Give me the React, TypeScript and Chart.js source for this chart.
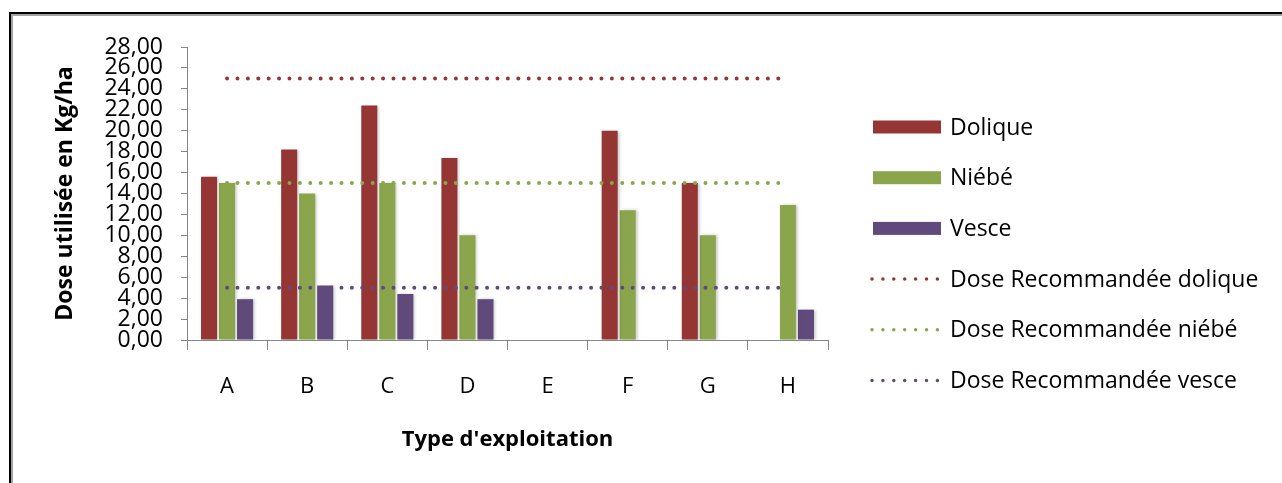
import React, { useEffect, useRef } from 'react';
import { Chart, registerables } from 'chart.js';

Chart.register(...registerables);

const categories = ['A', 'B', 'C', 'D', 'E', 'F', 'G', 'H'];
const dolique = [15.6, 18.2, 22.4, 17.4, null, 20.0, 15.0, null];
const niebe = [15.0, 14.0, 15.0, 10.0, null, 12.4, 10.0, 12.9];
const vesce = [3.9, 5.2, 4.4, 3.9, null, null, null, 2.9];
const recDolique = [25, 25, 25, 25, 25, 25, 25, 25];
const recNiebe = [15, 15, 15, 15, 15, 15, 15, 15];
const recVesce = [5, 5, 5, 5, 5, 5, 5, 5];
const seriesNames = [
  'Dolique',
  'Niébé',
  'Vesce',
  'Dose Recommandée dolique',
  'Dose Recommandée niébé',
  'Dose Recommandée vesce',
];
const yTickLabels = [
  '0,00', '2,00', '4,00', '6,00', '8,00', '10,00', '12,00', '14,00',
  '16,00', '18,00', '20,00', '22,00', '24,00', '26,00', '28,00',
];
const yTitle = 'Dose utilisée en Kg/ha';
const xTitle = "Type d'exploitation";

const RED = '#963634';
const GREEN = '#8AA54C';
const PURPLE = '#604A7B';
const AXIS = '#868686';
const FONT = '"Open Sans", "Noto Sans", sans-serif';

const shadowPlugin = {
  id: 'barShadow',
  beforeDatasetDraw(chart: any, args: any) {
    if (args.meta.type === 'bar') {
      const ctx = chart.ctx;
      ctx.save();
      ctx.shadowColor = 'rgba(0,0,0,0.22)';
      ctx.shadowBlur = 3;
      ctx.shadowOffsetX = 2;
      ctx.shadowOffsetY = 0;
    }
  },
  afterDatasetDraw(chart: any, args: any) {
    if (args.meta.type === 'bar') {
      chart.ctx.restore();
    }
  },
};

const legendPlugin = {
  id: 'sideLegend',
  afterDraw(chart: any) {
    const ctx = chart.ctx;
    ctx.save();
    chart.data.datasets.forEach((ds: any, i: number) => {
      const y = 127 + i * 50.7;
      if (ds.type === 'line') {
        ctx.strokeStyle = ds.borderColor;
        ctx.lineWidth = 3.5;
        ctx.lineCap = 'round';
        ctx.setLineDash([0, 10.9]);
        ctx.beginPath();
        ctx.moveTo(872, y);
        ctx.lineTo(938, y);
        ctx.stroke();
        ctx.setLineDash([]);
      } else {
        ctx.fillStyle = ds.backgroundColor;
        ctx.fillRect(873, y - 6.5, 68, 13);
      }
      ctx.fillStyle = '#000';
      ctx.font = `23px ${FONT}`;
      ctx.textBaseline = 'middle';
      ctx.textAlign = 'left';
      ctx.fillText(ds.label, 950, y + 1);
    });
    ctx.restore();
  },
};

export default function App() {
  const ref = useRef<HTMLCanvasElement | null>(null);

  useEffect(() => {
    if (!ref.current) return;
    const dotted = (label: string, data: number[], color: string) => ({
      type: 'line' as const,
      label,
      data,
      borderColor: color,
      backgroundColor: color,
      borderWidth: 4,
      borderCapStyle: 'round' as const,
      borderDash: [0, 10.4],
      pointRadius: 0,
      fill: false,
      order: 0,
    });
    const bar = (label: string, data: (number | null)[], color: string) => ({
      type: 'bar' as const,
      label,
      data,
      backgroundColor: color,
      borderWidth: 0,
      categoryPercentage: 0.675,
      barPercentage: 0.89,
      order: 1,
    });
    const chart = new Chart(ref.current, {
      type: 'bar',
      data: {
        labels: categories,
        datasets: [
          bar(seriesNames[0], dolique, RED),
          bar(seriesNames[1], niebe, GREEN),
          bar(seriesNames[2], vesce, PURPLE),
          dotted(seriesNames[3], recDolique, RED),
          dotted(seriesNames[4], recNiebe, GREEN),
          dotted(seriesNames[5], recVesce, PURPLE),
        ] as any,
      },
      options: {
        animation: false,
        responsive: false,
        devicePixelRatio: 1,
        layout: { padding: { top: 47, left: 0, right: 454, bottom: 0 } },
        plugins: {
          legend: { display: false },
          tooltip: { enabled: false },
        },
        font: { family: FONT },
        scales: {
          x: {
            type: 'category',
            offset: true,
            grid: {
              display: true,
              offset: true,
              drawOnChartArea: false,
              drawTicks: true,
              tickLength: 10,
              color: AXIS,
            },
            border: { display: true, color: AXIS, width: 1 },
            ticks: {
              color: '#000',
              padding: 24,
              font: { family: FONT, size: 22 },
              maxRotation: 0,
            },
            title: {
              display: true,
              text: xTitle,
              color: '#000',
              font: { family: FONT, size: 22, weight: 'bold' },
              padding: { top: 0, bottom: 30 },
            },
            afterFit: (scale: any) => {
              scale.height = 143;
            },
          },
          y: {
            type: 'linear',
            min: 0,
            max: 28,
            grid: {
              display: true,
              drawOnChartArea: false,
              drawTicks: true,
              tickLength: 6,
              color: AXIS,
            },
            border: { display: true, color: AXIS, width: 1 },
            ticks: {
              stepSize: 2,
              autoSkip: false,
              color: '#000',
              padding: 18,
              font: { family: FONT, size: 23, lineHeight: 1 },
              callback: (_v: any, i: number) => yTickLabels[i],
            },
            title: {
              display: true,
              text: yTitle,
              color: '#000',
              font: { family: FONT, size: 23, weight: 'bold' },
              padding: { top: 52, bottom: 0 },
            },
            afterFit: (scale: any) => {
              scale.width = 187;
            },
          },
        },
      } as any,
      plugins: [shadowPlugin, legendPlugin],
    });
    return () => chart.destroy();
  }, []);

  return (
    <div style={{ position: 'fixed', left: 0, top: 0, width: 1282, height: 483, background: '#fff', overflow: 'hidden' }}>
      <div
        style={{
          position: 'absolute',
          left: 9,
          top: 12,
          width: 1400,
          height: 600,
          borderLeft: '2px solid #000',
          borderTop: '2px solid #000',
        }}
      >
        <div
          style={{
            width: '100%',
            height: '100%',
            borderLeft: '2px solid #a3a3a3',
            borderTop: '2px solid #a3a3a3',
          }}
        />
      </div>
      <canvas
        ref={ref}
        width={1282}
        height={483}
        style={{ position: 'absolute', left: 0, top: 0, width: 1282, height: 483, display: 'block' }}
      />
    </div>
  );
}
